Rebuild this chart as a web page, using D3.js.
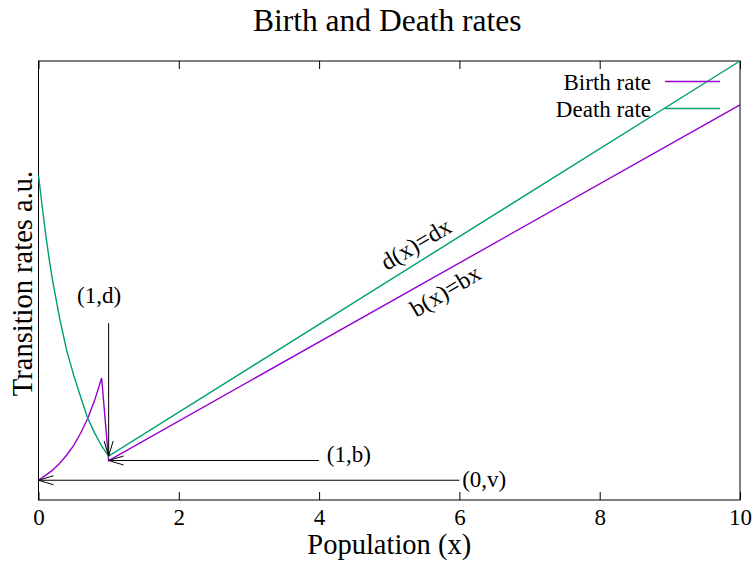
<!DOCTYPE html>
<html>
<head>
<meta charset="utf-8">
<script src="https://cdn.jsdelivr.net/npm/d3@7"></script>
<style>
  html, body { margin: 0; padding: 0; background: #fff; }
  svg { display: block; font-family: "Liberation Serif", "Times New Roman", serif; }
</style>
</head>
<body>
<svg id="chart" width="753" height="562"></svg>
<script>
// Birth rate b(x): rises from v at x=0, peaks near x=0.9, then b(x)=b·x for x>=1
const birthX = [0, 0.1, 0.2, 0.3, 0.4, 0.5, 0.6, 0.7, 0.8, 0.9, 1, 10];
const birthY = [0.45, 0.56, 0.68, 0.83, 1.02, 1.24, 1.52, 1.85, 2.27, 2.78, 0.9, 9.0];

// Death rate d(x): decays from a high value at x=0, then d(x)=d·x for x>=1
const deathX = [0, 0.05, 0.1, 0.15, 0.2, 0.3, 0.4, 0.5, 0.6, 0.7, 0.8, 0.9, 1, 10];
const deathY = [7.4, 6.72, 6.08, 5.51, 5.01, 4.15, 3.42, 2.85, 2.35, 1.87, 1.53, 1.23, 1.0, 10.0];

const xTicks = [0, 2, 4, 6, 8, 10];
const seriesNames = ["Birth rate", "Death rate"];
const seriesColors = ["#9400d3", "#009e73"];

// Annotated arrows: label, label anchor, arrow tail, arrow head (data units)
const arrowLabels = ["(1,d)", "(1,b)", "(0,v)"];
const arrowLabelPos = [[0.55, 4.49], [4.11, 0.86], [6.04, 0.30]];
const arrowFrom = [[1, 4.03], [4, 0.9], [6, 0.45]];
const arrowTo = [[1, 1.0], [1, 0.9], [0, 0.45]];

// Formula labels placed along the straight parts
const formulaLabels = ["d(x)=dx", "b(x)=bx"];
const formulaPos = [[5.38, 5.83], [5.80, 4.76]];

const svg = d3.select("#chart");
const W = 753, H = 562;
const m = { left: 38.5, right: 13, top: 61, bottom: 62 };

const x = d3.scaleLinear().domain([0, 10]).range([m.left, W - m.right]);
const y = d3.scaleLinear().domain([0, 10]).range([H - m.bottom, m.top]);

// arrow head
svg.append("defs").append("marker")
  .attr("id", "head")
  .attr("viewBox", "-17 -7 18 14")
  .attr("refX", 0).attr("refY", 0)
  .attr("markerWidth", 18).attr("markerHeight", 14)
  .attr("markerUnits", "userSpaceOnUse")
  .attr("orient", "auto")
  .append("path")
  .attr("d", "M-15,-4.5L0,0L-15,4.5")
  .attr("fill", "none").attr("stroke", "#000").attr("stroke-width", 1);

// title
svg.append("text")
  .attr("x", (x(0) + x(10)) / 2 - 2).attr("y", 31)
  .attr("text-anchor", "middle")
  .attr("font-size", 31.5)
  .text("Birth and Death rates");

// bottom axis with inward ticks
const gx = svg.append("g")
  .attr("transform", `translate(0,${y(0)})`)
  .call(d3.axisBottom(x).tickValues(xTicks).tickFormat(d3.format("d"))
    .tickSizeInner(-8).tickSizeOuter(0).tickPadding(9));
gx.select(".domain").remove();
gx.selectAll("line").attr("stroke", "#000");
gx.selectAll("text").attr("font-size", 23).attr("font-family", "Liberation Serif").attr("fill", "#000");

// mirrored ticks on top
const gt = svg.append("g")
  .attr("transform", `translate(0,${y(10)})`)
  .call(d3.axisTop(x).tickValues(xTicks).tickFormat("")
    .tickSizeInner(-8).tickSizeOuter(0));
gt.select(".domain").remove();
gt.selectAll("line").attr("stroke", "#000");

// border
svg.append("rect")
  .attr("x", x(0)).attr("y", y(10))
  .attr("width", x(10) - x(0)).attr("height", y(0) - y(10))
  .attr("fill", "none").attr("stroke", "#000").attr("stroke-width", 1);

// axis titles
svg.append("text")
  .attr("x", (x(0) + x(10)) / 2).attr("y", 554)
  .attr("text-anchor", "middle").attr("font-size", 28.5)
  .text("Population (x)");
svg.append("text")
  .attr("transform", `translate(32,${(y(0) + y(10)) / 2 + 3}) rotate(-90)`)
  .attr("text-anchor", "middle").attr("font-size", 28.5)
  .text("Transition rates a.u.");

// curves
const line = d3.line().x(d => x(d[0])).y(d => y(d[1]));
const series = [
  d3.zip(birthX, birthY),
  d3.zip(deathX, deathY)
];
series.forEach((pts, i) => {
  svg.append("path")
    .attr("d", line(pts))
    .attr("fill", "none")
    .attr("stroke", seriesColors[i])
    .attr("stroke-width", 1.4);
});

// legend
seriesNames.forEach((name, i) => {
  const ly = 81.5 + i * 27;
  svg.append("text")
    .attr("x", 651).attr("y", ly + 8.5)
    .attr("text-anchor", "end").attr("font-size", 23)
    .text(name);
  svg.append("line")
    .attr("x1", 665).attr("x2", 720).attr("y1", ly).attr("y2", ly)
    .attr("stroke", seriesColors[i]).attr("stroke-width", 1.4);
});

// arrows and their labels
arrowLabels.forEach((lab, i) => {
  svg.append("line")
    .attr("x1", x(arrowFrom[i][0])).attr("y1", y(arrowFrom[i][1]))
    .attr("x2", x(arrowTo[i][0])).attr("y2", y(arrowTo[i][1]))
    .attr("stroke", "#000").attr("stroke-width", 1)
    .attr("marker-end", "url(#head)");
  svg.append("text")
    .attr("x", x(arrowLabelPos[i][0])).attr("y", y(arrowLabelPos[i][1]))
    .attr("font-size", 23)
    .text(lab);
});

// rotated formula labels
formulaLabels.forEach((lab, i) => {
  svg.append("text")
    .attr("transform", `translate(${x(formulaPos[i][0])},${y(formulaPos[i][1])}) rotate(-31)`)
    .attr("text-anchor", "middle").attr("dominant-baseline", "central")
    .attr("font-size", 24)
    .text(lab);
});
</script>
</body>
</html>
